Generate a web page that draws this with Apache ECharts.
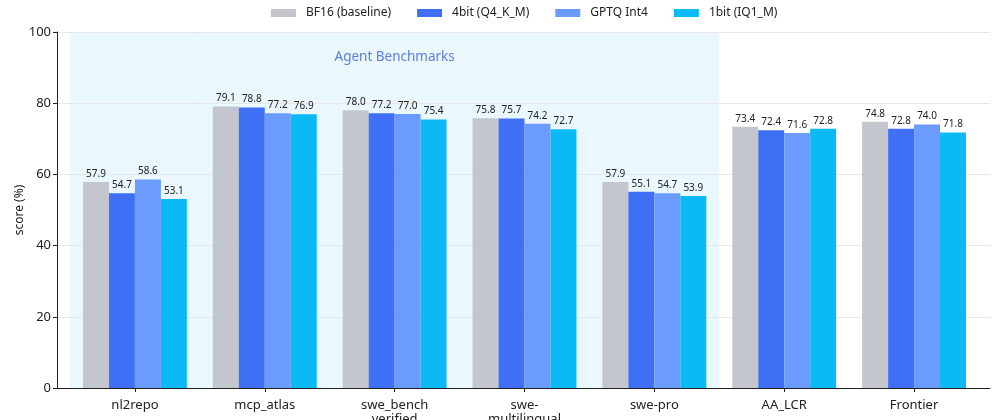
<!DOCTYPE html>
<html>
<head>
<meta charset="utf-8">
<script src="https://cdn.jsdelivr.net/npm/echarts@6/dist/echarts.min.js"></script>
<style>
  html, body { margin: 0; padding: 0; background: #fff; }
  #main { width: 1002px; height: 420px; }
</style>
</head>
<body>
<div id="main"></div>
<script>
// categories and scores
var categories = ['nl2repo', 'mcp_atlas', 'swe_bench\nverified', 'swe-\nmultilingual', 'swe-pro', 'AA_LCR', 'Frontier'];
var seriesNames = ['BF16 (baseline)', '4bit (Q4_K_M)', 'GPTQ Int4', '1bit (IQ1_M)'];
var bf16 = [57.9, 79.1, 78.0, 75.8, 57.9, 73.4, 74.8];
var q4km = [54.7, 78.8, 77.2, 75.7, 55.1, 72.4, 72.8];
var gptq = [58.6, 77.2, 77.0, 74.2, 54.7, 71.6, 74.0];
var iq1m = [53.1, 76.9, 75.4, 72.7, 53.9, 72.8, 71.8];
// shaded "Agent Benchmarks" group (first five categories)
var agentBand = [100, 100, 100, 100, 100, null, null];
var yTicks = [0, 20, 40, 60, 80, 100];

var colors = ['#c3c6cc', '#3f6ff4', '#6c9bff', '#0bb9f4'];
var font = 'Noto Sans';

var myChart = echarts.init(document.getElementById('main'));

function barSeries(name, data, i) {
    return {
        name: name,
        type: 'bar',
        xAxisIndex: 0,
        yAxisIndex: 0,
        data: data,
        barGap: '0%',
        barCategoryGap: '20%',
        itemStyle: { color: colors[i] },
        label: {
            show: true,
            position: 'top',
            distance: 3,
            fontFamily: font,
            fontSize: 10,
            color: '#222',
            formatter: function (p) { return p.value.toFixed(1); }
        },
        z: 3
    };
}

var option = {
    animation: false,
    backgroundColor: '#fff',
    color: colors,
    legend: {
        top: 2,
        left: 266,
        itemWidth: 25,
        itemHeight: 8,
        itemGap: 26,
        icon: 'rect',
        textStyle: { fontFamily: font, fontSize: 12, color: '#222', padding: [0, 0, 0, 5] },
        data: seriesNames
    },
    grid: [
        // bars: category bands only
        { left: 70, right: 23, top: 32, bottom: 32, outerBoundsMode: 'none' },
        // frame: y axis, grid lines and x axis line
        { left: 57, right: 12, top: 32, bottom: 32, outerBoundsMode: 'none' }
    ],
    xAxis: [
        {
            type: 'category',
            gridIndex: 0,
            data: categories,
            axisLine: { show: false },
            axisTick: { show: true, alignWithLabel: true, length: 4, lineStyle: { color: '#222' } },
            axisLabel: { fontFamily: font, fontSize: 13, color: '#222', lineHeight: 14, margin: 10 }
        },
        {
            type: 'category',
            gridIndex: 0,
            data: categories,
            show: false
        },
        {
            type: 'value',
            gridIndex: 1,
            min: 0,
            max: 1,
            axisLine: { show: true, lineStyle: { color: '#222', width: 1 } },
            axisTick: { show: false },
            axisLabel: { show: false },
            splitLine: { show: false }
        }
    ],
    yAxis: [
        {
            type: 'value',
            gridIndex: 0,
            min: 0,
            max: 100,
            interval: 20,
            show: false
        },
        {
            type: 'value',
            gridIndex: 1,
            min: yTicks[0],
            max: yTicks[yTicks.length - 1],
            interval: 20,
            name: 'score (%)',
            nameLocation: 'middle',
            nameGap: 31,
            nameMoveOverlap: false,
            nameTextStyle: { fontFamily: font, fontSize: 12, color: '#222' },
            axisLine: { show: true, lineStyle: { color: '#222', width: 1 } },
            axisTick: { show: true, length: 4, lineStyle: { color: '#222' } },
            axisLabel: { fontFamily: font, fontSize: 13, color: '#222', margin: 6 },
            splitLine: { show: true, lineStyle: { color: '#e6e6e6', width: 1 } }
        }
    ],
    series: [
        {
            name: 'agent',
            type: 'bar',
            xAxisIndex: 1,
            yAxisIndex: 0,
            data: agentBand,
            barWidth: '100%',
            silent: true,
            itemStyle: { color: '#eaf7fd' },
            label: {
                show: true,
                position: 'insideTop',
                distance: 18,
                fontFamily: font,
                fontSize: 13.5,
                color: '#5b80e0',
                formatter: function (p) { return p.dataIndex === 2 ? 'Agent Benchmarks' : ''; }
            },
            z: -1
        },
        barSeries(seriesNames[0], bf16, 0),
        barSeries(seriesNames[1], q4km, 1),
        barSeries(seriesNames[2], gptq, 2),
        barSeries(seriesNames[3], iq1m, 3)
    ]
};

myChart.setOption(option);
</script>
</body>
</html>
